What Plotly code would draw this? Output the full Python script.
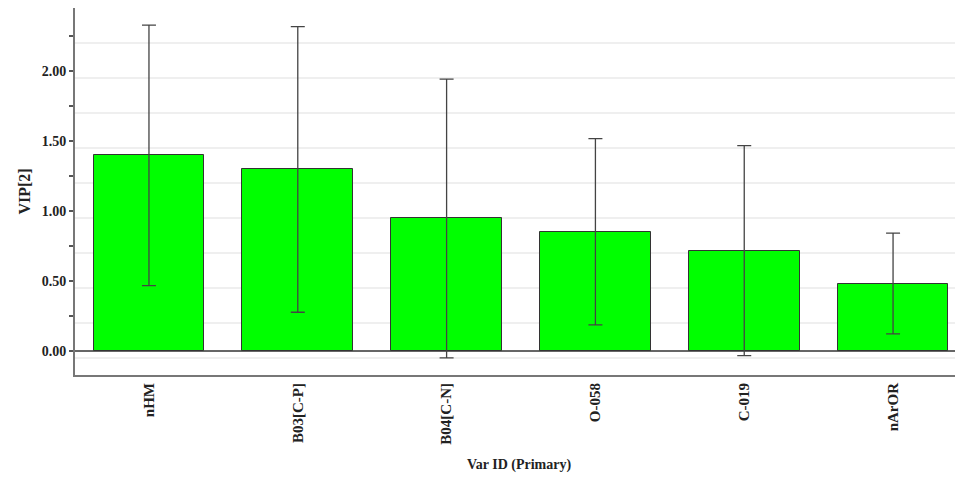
import plotly.graph_objects as go

categories = ["nHM", "B03[C-P]", "B04[C-N]", "O-058", "C-019", "nArOR"]
vip_values = [1.40, 1.30, 0.95, 0.855, 0.72, 0.485]
vip_errors = [0.93, 1.02, 0.995, 0.665, 0.75, 0.36]
y_tick_values = [0.0, 0.5, 1.0, 1.5, 2.0]
y_tick_labels = ["0.00", "0.50", "1.00", "1.50", "2.00"]

FONT = "Liberation Serif, Times New Roman, serif"

fig = go.Figure()
fig.add_trace(go.Bar(
    x=list(range(len(categories))),
    y=vip_values,
    width=0.745,
    marker=dict(color="#00ff00", line=dict(color="#333333", width=1)),
    error_y=dict(type="data", array=vip_errors, visible=True,
                 color="#444444", thickness=1.3, width=7),
))
# invisible trace to drive the faint grid axis
fig.add_trace(go.Scatter(x=[0], y=[0], yaxis="y2", mode="markers",
                         marker=dict(opacity=0), hoverinfo="skip", showlegend=False))

fig.update_layout(
    width=955, height=469,
    margin=dict(l=67, r=0, t=0, b=102, autoexpand=False),
    paper_bgcolor="white", plot_bgcolor="white",
    showlegend=False,
    bargap=0,
    xaxis=dict(
        range=[-0.497, 5.47],
        tickmode="array",
        tickvals=list(range(len(categories))),
        ticktext=["<b>%s</b>" % c for c in categories],
        tickangle=-90,
        tickfont=dict(family=FONT, size=15, color="#222222"),
        showline=True, linecolor="#777777", linewidth=2, mirror=True,
        showgrid=False, ticks="", ticklen=0,
        title=dict(text="<b>Var ID (Primary)</b>", font=dict(family=FONT, size=14, color="#222222"),
                   standoff=16),
    ),
    yaxis=dict(
        range=[-0.168, 2.453],
        tickmode="array",
        tickvals=y_tick_values,
        ticktext=["<b>%s</b>" % t for t in y_tick_labels],
        tickfont=dict(family=FONT, size=14, color="#222222"),
        ticks="outside", ticklen=4, tickcolor="#555555", tickwidth=1.5,
        minor=dict(dtick=0.25, tick0=0, ticks="outside", ticklen=4, tickcolor="#555555", tickwidth=1.5,
                   showgrid=False),
        showline=True, linecolor="#777777", linewidth=2, mirror=False,
        showgrid=False,
        zeroline=True, zerolinecolor="#666666", zerolinewidth=1.5,
        title=dict(text="<b>VIP[2]</b>", font=dict(family=FONT, size=16, color="#222222"),
                   standoff=7),
    ),
    yaxis2=dict(
        overlaying="y", range=[-0.168, 2.453],
        tickmode="linear", tick0=-0.05, dtick=0.25,
        showticklabels=False, ticks="",
        showgrid=True, gridcolor="#efefef", gridwidth=2,
        zeroline=False, showline=False,
    ),
)

fig.write_html("out.html")
